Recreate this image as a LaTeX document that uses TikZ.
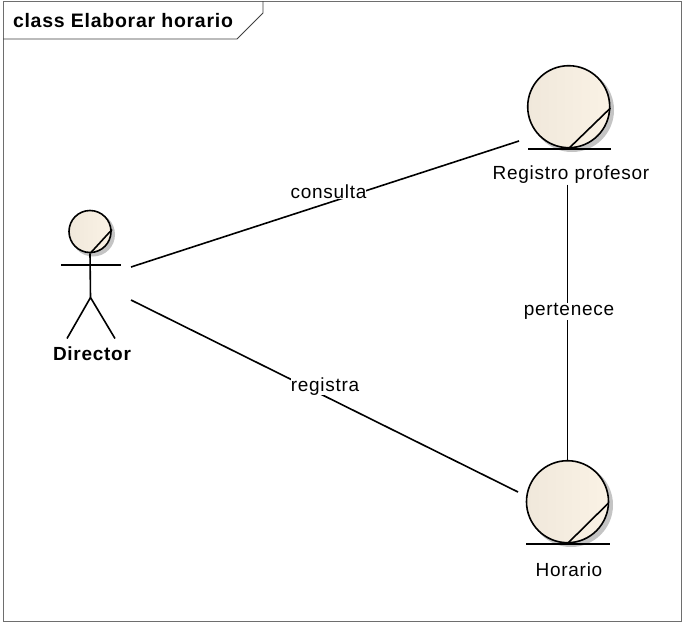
\documentclass[tikz,border=0pt]{standalone}
\usepackage{fontspec}
\setmainfont[LetterSpace=3.8]{Liberation Sans}
\definecolor{framegray}{HTML}{6E6E6E}
\definecolor{shadowgray}{HTML}{C4C4C4}
\definecolor{bodyleft}{HTML}{F0E8DB}
\definecolor{bodymid}{HTML}{FAF2E5}
\tikzset{
    umlline/.style={draw=black, line width=1.6pt},
    bodycircle/.style={circle, draw=black, line width=1.6pt, inner sep=0pt, left color=bodyleft, middle color=bodymid, right color=bodymid},
    shadowcircle/.style={circle, fill=shadowgray, inner sep=0pt},
    elemlabel/.style={font=\fontsize{19}{21}\selectfont, inner sep=1pt},
    linklabel/.style={font=\fontsize{19}{21}\selectfont, fill=white, inner sep=0pt},
}
\begin{document}
\begin{tikzpicture}[x=1pt, y=1pt]
    \useasboundingbox (0,0) rectangle (683,-624);
    \fill[white] (0,0) rectangle (683,-624);
    % frame
    \draw[draw=framegray, line width=1pt] (3,-1) rectangle (681,-621);
    \draw[draw=black!75, line width=0.9pt] (3,-39) -- (237,-39) -- (263,-13) -- (263,-1);
    \node[font=\bfseries\fontsize{19.5}{21}\selectfont, inner sep=0pt] (title) at (123,-21) {class Elaborar horario};
    % director
    \node[shadowcircle, minimum size=44pt] (dirshadow) at (93,-234.5) {};
    \node[bodycircle, minimum size=42pt] (dirhead) at (90,-231.5) {};
    \coordinate (dirneck) at (90.5,-253);
    \coordinate (dirhip) at (90.5,-297.5);
    \coordinate (dirarml) at (61,-265);
    \coordinate (dirarmr) at (121,-265);
    \coordinate (dirfootl) at (67,-338.5);
    \coordinate (dirfootr) at (115,-338.5);
    \coordinate (dirslash) at (112,-229.5);
    \draw[umlline] (dirhead.south) -- (dirhip);
    \draw[umlline] (dirarml) -- (dirarmr);
    \draw[umlline] (dirfootl) -- (dirhip) -- (dirfootr);
    \draw[umlline] (dirneck) -- (dirslash);
    \node[font=\bfseries\fontsize{19}{21}\selectfont, inner sep=1pt] (director) at (92,-354) {Director};
    % registro profesor
    \node[shadowcircle, minimum size=84pt] (profshadow) at (572,-110) {};
    \node[bodycircle, minimum size=82pt] (prof) at (568.7,-106.7) {};
    \coordinate (profbasel) at (528,-149);
    \coordinate (profbaser) at (611,-149);
    \coordinate (profslash) at (610.5,-108);
    \draw[umlline] (profbasel) -- (profbaser);
    \draw[umlline] (prof.south) -- (profslash);
    \node[elemlabel] (proflabel) at (571,-174.5) {Registro profesor};
    % horario
    \node[shadowcircle, minimum size=84pt] (horshadow) at (571,-505) {};
    \node[bodycircle, minimum size=82pt] (hor) at (567.5,-501.7) {};
    \coordinate (horbasel) at (526,-544);
    \coordinate (horbaser) at (609.5,-544);
    \coordinate (horslash) at (608.5,-503);
    \draw[umlline] (horbasel) -- (horbaser);
    \draw[umlline] (hor.south) -- (horslash);
    \node[elemlabel] (horlabel) at (569,-570) {Horario};
    % links
    \coordinate (dirtop) at (131,-267);
    \coordinate (dirbot) at (131,-300);
    \coordinate (profend) at (519,-141);
    \coordinate (horend) at (518,-492);
    \draw[umlline] (dirtop) -- (profend);
    \draw[umlline] (dirbot) -- (horend);
    \draw[umlline] (proflabel.south -| hor.north) -- (hor.north);
    \node[linklabel] (consulta) at (328.5,-192) {consulta};
    \node[linklabel] (registra) at (325,-386.5) {registra};
    \node[linklabel] (pertenece) at (569,-311.5) {pertenece};
\end{tikzpicture}
\end{document}
